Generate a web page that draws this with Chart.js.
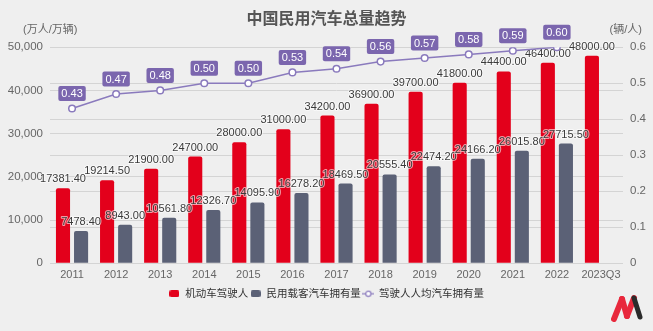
<!DOCTYPE html>
<html>
<head>
<meta charset="utf-8">
<script src="https://cdn.jsdelivr.net/npm/chart.js@4.4.1/dist/chart.umd.min.js"></script>
<style>
html, body { margin: 0; padding: 0; background: #efefef; }
#wrap { position: relative; width: 653px; height: 331px; }
#logo { position: absolute; left: 611px; top: 294px; }
</style>
</head>
<body>
<div id="wrap">
 <canvas id="c" width="653" height="331"></canvas>
 <svg id="logo" width="34" height="28" viewBox="0 0 34 28">
  <path d="M3 25 L11 5" stroke="#e8283c" stroke-width="6" stroke-linecap="round"/>
  <path d="M11 5 L16 22" stroke="#e8283c" stroke-width="6" stroke-linecap="round"/>
  <path d="M16 22 L23 4" stroke="#e8283c" stroke-width="6" stroke-linecap="round"/>
  <path d="M23 4 L29 23" stroke="#2b2b2b" stroke-width="5" stroke-linecap="round"/>
 </svg>
</div>
<script>
const FONT = '"Liberation Sans", "Noto Sans CJK SC", sans-serif';

const years = ['2011', '2012', '2013', '2014', '2015', '2016', '2017', '2018', '2019', '2020', '2021', '2022', '2023Q3'];
const drivers = [17381.40, 19214.50, 21900, 24700, 28000, 31000, 34200, 36900, 39700, 41800, 44400, 46400, 48000];
const cars = [7478.40, 8943.00, 10561.80, 12326.70, 14095.90, 16278.20, 18469.50, 20555.40, 22474.20, 24166.20, 26015.80, 27715.50, null];
const perDriver = [0.43, 0.47, 0.48, 0.50, 0.50, 0.53, 0.54, 0.56, 0.57, 0.58, 0.59, 0.60, null];

const RED = '#e3001b';
const GRAY = '#5b6176';
const PURPLE = '#8a7abd';
const TAG = '#7b66ae';

// little legend icons
function boxIcon(color) {
 const c = document.createElement('canvas');
 c.width = 10; c.height = 7;
 const g = c.getContext('2d');
 g.fillStyle = color;
 g.beginPath();
 g.roundRect(0, 0, 10, 7, 2);
 g.fill();
 return c;
}
function lineIcon() {
 const c = document.createElement('canvas');
 c.width = 12; c.height = 8;
 const g = c.getContext('2d');
 g.strokeStyle = PURPLE;
 g.lineWidth = 1.2;
 g.beginPath(); g.moveTo(0, 4); g.lineTo(12, 4); g.stroke();
 g.fillStyle = '#fff';
 g.beginPath(); g.arc(6, 4, 2.6, 0, Math.PI * 2); g.fill(); g.stroke();
 return c;
}
const icons = [boxIcon(RED), boxIcon(GRAY), lineIcon()];

const labelsPlugin = {
 id: 'valueLabels',
 beforeDatasetDraw(chart, args) {
  if (args.index !== 2) return;
  const ctx = chart.ctx;
  ctx.save();
  ctx.font = '11px ' + FONT;
  ctx.textAlign = 'center';
  ctx.textBaseline = 'middle';
  ctx.lineJoin = 'round';
  [0, 1].forEach(i => {
   const vals = chart.data.datasets[i].data;
   chart.getDatasetMeta(i).data.forEach((el, j) => {
    if (vals[j] == null) return;
    const txt = vals[j].toFixed(2);
    ctx.strokeStyle = 'rgba(255,255,255,0.6)';
    ctx.lineWidth = 2;
    ctx.strokeText(txt, el.x, el.y - 9);
    ctx.fillStyle = '#3a3a3a';
    ctx.fillText(txt, el.x, el.y - 9);
   });
  });
  ctx.restore();
 },
 afterDatasetsDraw(chart) {
  const ctx = chart.ctx;
  const vals = chart.data.datasets[2].data;
  ctx.save();
  ctx.font = '11px ' + FONT;
  ctx.textAlign = 'center';
  ctx.textBaseline = 'middle';
  chart.getDatasetMeta(2).data.forEach((el, j) => {
   if (vals[j] == null) return;
   const txt = vals[j].toFixed(2);
   const w = ctx.measureText(txt).width + 6;
   const cy = el.y - 15;
   ctx.fillStyle = TAG;
   ctx.beginPath();
   ctx.roundRect(el.x - w / 2, cy - 7.5, w, 15, 2);
   ctx.fill();
   ctx.fillStyle = '#fff';
   ctx.fillText(txt, el.x, cy + 0.5);
  });
  // axis unit captions
  ctx.fillStyle = '#666';
  ctx.font = '11px ' + FONT;
  ctx.textAlign = 'left';
  ctx.fillText('(万人/万辆)', 23, 30);
  ctx.textAlign = 'right';
  ctx.fillText('(辆/人)', 642, 30);
  ctx.restore();
 }
};

new Chart(document.getElementById('c'), {
 type: 'bar',
 data: {
  labels: years,
  datasets: [
   {
    label: '机动车驾驶人',
    data: drivers,
    backgroundColor: RED,
    borderRadius: 2,
    yAxisID: 'y',
    order: 1,
    categoryPercentage: 0.82,
    barPercentage: 0.78
   },
   {
    label: '民用载客汽车拥有量',
    data: cars,
    backgroundColor: GRAY,
    borderRadius: 2,
    yAxisID: 'y',
    order: 1,
    categoryPercentage: 0.82,
    barPercentage: 0.78
   },
   {
    type: 'line',
    label: '驾驶人人均汽车拥有量',
    data: perDriver,
    borderColor: PURPLE,
    borderWidth: 1.5,
    pointRadius: 3.3,
    pointBorderWidth: 1.5,
    pointBackgroundColor: '#fff',
    pointBorderColor: PURPLE,
    yAxisID: 'y1',
    order: 0
   }
  ]
 },
 options: {
  responsive: false,
  animation: false,
  layout: { padding: { left: 0, right: 0, bottom: 22 } },
  plugins: {
   title: {
    display: true,
    text: '中国民用汽车总量趋势',
    color: '#555',
    font: { family: FONT, size: 16, weight: 'bold' },
    padding: { top: 10, bottom: 18 }
   },
   legend: {
    position: 'bottom',
    labels: {
     usePointStyle: true,
     pointStyleWidth: 11,
     padding: 2,
     color: '#333',
     font: { family: FONT, size: 10.5 },
     generateLabels(chart) {
      return Chart.defaults.plugins.legend.labels.generateLabels(chart)
       .sort((a, b) => a.datasetIndex - b.datasetIndex)
       .map(l => Object.assign(l, { pointStyle: icons[l.datasetIndex] }));
     }
    }
   },
   tooltip: { enabled: false }
  },
  scales: {
   x: {
    grid: { display: false, drawTicks: false },
    border: { display: false },
    ticks: { color: '#666', font: { family: FONT, size: 11 }, padding: 5, maxRotation: 0, autoSkip: false }
   },
   y: {
    position: 'left',
    min: 0,
    max: 50000,
    ticks: { stepSize: 10000, color: '#666', font: { family: FONT, size: 11.5 }, padding: 7 },
    grid: { color: '#d4d4d4', drawTicks: false },
    border: { display: false },
    afterFit(scale) { scale.width = 50; }
   },
   y1: {
    position: 'right',
    min: 0,
    max: 0.6,
    ticks: {
     stepSize: 0.1,
     color: '#666',
     font: { family: FONT, size: 11.5 },
     padding: 7,
     callback: v => v === 0 ? '0' : v.toFixed(1)
    },
    grid: { color: '#d4d4d4', drawTicks: false },
    border: { display: false },
    afterFit(scale) { scale.width = 30; }
   }
  }
 },
 plugins: [labelsPlugin]
});
</script>
</body>
</html>
